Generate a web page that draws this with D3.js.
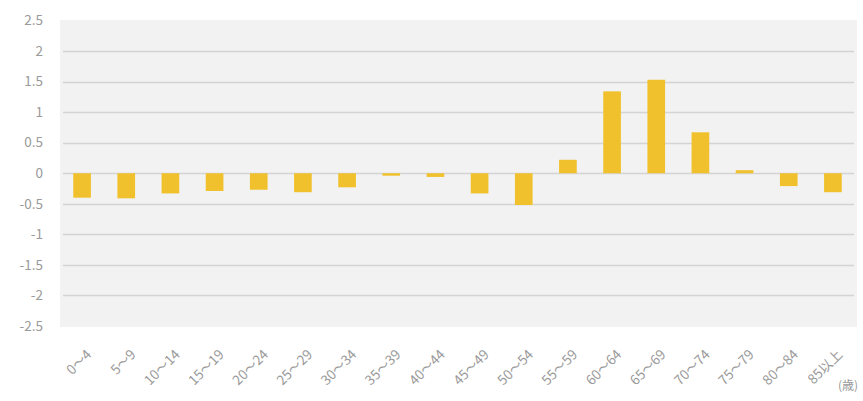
<!DOCTYPE html>
<html>
<head>
<meta charset="utf-8">
<script src="https://cdn.jsdelivr.net/npm/d3@7"></script>
<style>
  body { margin: 0; background: #fff; }
  svg { display: block; font-family: "Noto Sans CJK JP", "Noto Sans", sans-serif; }
</style>
</head>
<body>
<svg width="863" height="401"></svg>
<script>
// age groups and values
var ages = ["0～4", "5～9", "10～14", "15～19", "20～24", "25～29", "30～34", "35～39", "40～44",
            "45～49", "50～54", "55～59", "60～64", "65～69", "70～74", "75～79", "80～84", "85以上"];
var values = [-0.40, -0.41, -0.33, -0.29, -0.27, -0.31, -0.23, -0.04, -0.06,
              -0.33, -0.52, 0.22, 1.34, 1.53, 0.67, 0.05, -0.21, -0.31];
var yTicks = [2.5, 2, 1.5, 1, 0.5, 0, -0.5, -1, -1.5, -2, -2.5];

var svg = d3.select("svg");

var plotL = 60, plotR = 857, plotT = 20, plotB = 327;

var x = d3.scaleBand()
    .domain(ages)
    .range([plotL, plotR - 2])
    .paddingInner(0.6)
    .paddingOuter(0.3);

var y = d3.scaleLinear()
    .domain([-2.5, 2.5])
    .range([plotB - 1, plotT + 0.5]);

// plot area
svg.append("rect")
    .attr("x", plotL)
    .attr("y", plotT)
    .attr("width", plotR - plotL)
    .attr("height", plotB - plotT)
    .attr("fill", "#f2f2f2");

// gridlines
svg.selectAll(".grid")
    .data(yTicks.filter(d => d != 2.5 && d != -2.5))
    .enter().append("line")
    .attr("class", "grid")
    .attr("x1", plotL + 3)
    .attr("x2", plotR - 3)
    .attr("y1", d => Math.round(y(d)) + 0.5)
    .attr("y2", d => Math.round(y(d)) + 0.5)
    .attr("stroke", "#d4d4d4")
    .attr("stroke-width", 1.5);

// y labels
svg.selectAll(".ylab")
    .data(yTicks)
    .enter().append("text")
    .attr("class", "ylab")
    .attr("x", 43)
    .attr("y", d => y(d))
    .attr("dy", "0.35em")
    .attr("text-anchor", "end")
    .attr("font-size", 13.5)
    .attr("fill", "#9a9a9a")
    .text(d => d);

// bars
svg.selectAll(".bar")
    .data(values)
    .enter().append("rect")
    .attr("class", "bar")
    .attr("x", (d, i) => x(ages[i]))
    .attr("width", x.bandwidth())
    .attr("y", d => y(Math.max(0, d)))
    .attr("height", d => Math.abs(y(d) - y(0)))
    .attr("fill", "#f0c12c");

// x labels
svg.selectAll(".xlab")
    .data(ages)
    .enter().append("text")
    .attr("class", "xlab")
    .attr("transform", d => "translate(" + (x(d) + x.bandwidth() / 2 + 7) + ",352) rotate(-45)")
    .attr("dy", "0.35em")
    .attr("text-anchor", "end")
    .attr("font-size", 13.5)
    .attr("fill", "#9a9a9a")
    .text(d => d);

svg.append("text")
    .attr("x", 838)
    .attr("y", 390)
    .attr("font-size", 12)
    .attr("fill", "#9a9a9a")
    .text("(歳)");
</script>
</body>
</html>
